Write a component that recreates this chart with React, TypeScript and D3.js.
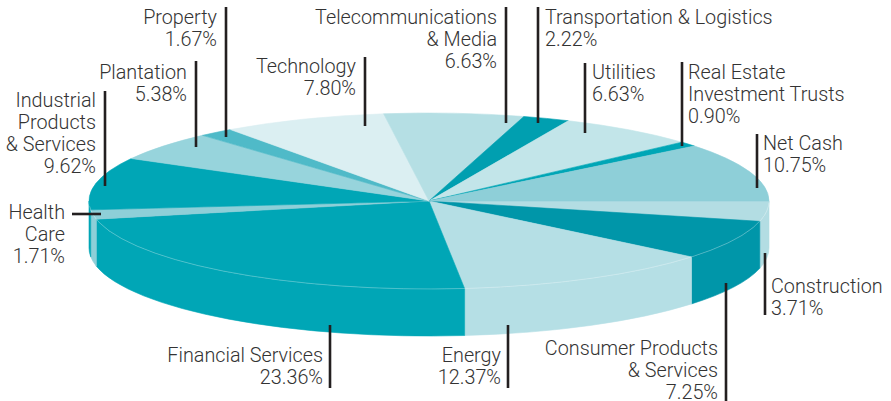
import React, { useEffect, useRef } from "react";
import * as d3 from "d3";

// sector weights, clockwise from 3 o'clock
const categories = [
  "Construction",
  "Consumer Products & Services",
  "Energy",
  "Financial Services",
  "Health Care",
  "Industrial Products & Services",
  "Plantation",
  "Property",
  "Technology",
  "Telecommunications & Media",
  "Transportation & Logistics",
  "Utilities",
  "Real Estate Investment Trusts",
  "Net Cash",
];
const values = [3.71, 7.25, 12.37, 23.36, 1.71, 9.62, 5.38, 1.67, 7.8, 6.63, 2.22, 6.63, 0.9, 10.75];
const labelLines = [
  ["Construction"],
  ["Consumer Products", "& Services"],
  ["Energy"],
  ["Financial Services"],
  ["Health", "Care"],
  ["Industrial", "Products", "& Services"],
  ["Plantation"],
  ["Property"],
  ["Technology"],
  ["Telecommunications", "& Media"],
  ["Transportation & Logistics"],
  ["Utilities"],
  ["Real Estate", "Investment Trusts"],
  ["Net Cash"],
];
const colors = [
  "#b3dde3", "#0096a9", "#b5dfe5", "#00a6b6", "#8ecfd8", "#00a6b6", "#97d4dc",
  "#4fbac8", "#dbeff2", "#b5dfe4", "#009fb0", "#c2e5e9", "#00a6b6", "#8ecfd8",
];

// annotation layout: leader line and text start
const layout = [
  { lx: 765, y1: 253, y2: 315, anchor: "start", tx: 771, ty: 293 },
  { lx: 726, y1: 283, y2: 401, anchor: "end", tx: 718, ty: 355 },
  { lx: 508, y1: 325, y2: 388, anchor: "end", tx: 501, ty: 362 },
  { lx: 330, y1: 325, y2: 388, anchor: "end", tx: 323, ty: 362 },
  { lx: 72, lx2: 101, y1: 214, y2: 214, anchor: "end", tx: 65, ty: 219 },
  { lx: 105, y1: 91, y2: 186, anchor: "end", tx: 96, ty: 107 },
  { lx: 196, y1: 61, y2: 147, anchor: "end", tx: 187, ty: 79 },
  { lx: 226, y1: 7, y2: 137, anchor: "end", tx: 217, ty: 24 },
  { lx: 365, y1: 57, y2: 126, anchor: "end", tx: 356, ty: 73 },
  { lx: 506, y1: 7, y2: 123, anchor: "end", tx: 497, ty: 24 },
  { lx: 538, y1: 7, y2: 123, anchor: "start", tx: 545, ty: 24 },
  { lx: 585, y1: 63, y2: 133, anchor: "start", tx: 592, ty: 79 },
  { lx: 682, y1: 62, y2: 146, anchor: "start", tx: 688, ty: 79 },
  { lx: 757, y1: 134, y2: 188, anchor: "start", tx: 763, ty: 150 },
];

const W = 891;
const H = 401;
const cx = 429;
const cy = 201;
const rx = 340;
const ry = 88;
const depth = 47;
const lineH = 22;

const pt = (a: number, dy = 0) => [cx + rx * Math.sin(a), cy - ry * Math.cos(a) + dy];

function arcTo(a0: number, a1: number, dy: number, sweep: number) {
  const [x, y] = pt(a1, dy);
  const large = Math.abs(a1 - a0) > Math.PI ? 1 : 0;
  return `A${rx},${ry} 0 ${large} ${sweep} ${x},${y}`;
}

export default function App() {
  const ref = useRef<SVGSVGElement>(null);

  useEffect(() => {
    const svg = d3.select(ref.current);
    svg.selectAll("*").remove();

    const pie = d3
      .pie<number>()
      .sort(null)
      .startAngle(Math.PI / 2)
      .endAngle(Math.PI / 2 + 2 * Math.PI)
      .value((d) => d);
    const arcs = pie(values);

    // side walls (only the front half shows)
    const sides = svg.append("g");
    arcs.forEach((d, i) => {
      const a0 = Math.max(d.startAngle, Math.PI / 2);
      const a1 = Math.min(d.endAngle, (3 * Math.PI) / 2);
      if (a1 <= a0) return;
      const [x0, y0] = pt(a0);
      const [x1, y1] = pt(a1, depth);
      const p = `M${x0},${y0}${arcTo(a0, a1, 0, 1)}L${x1},${y1}${arcTo(a1, a0, depth, 0)}Z`;
      sides.append("path").attr("d", p).attr("fill", colors[i]).attr("stroke", colors[i]).attr("stroke-width", 0.6);
    });

    // top faces
    const tops = svg.append("g");
    arcs.forEach((d, i) => {
      const [x0, y0] = pt(d.startAngle);
      const p = `M${cx},${cy}L${x0},${y0}${arcTo(d.startAngle, d.endAngle, 0, 1)}Z`;
      tops.append("path").attr("d", p).attr("fill", colors[i]).attr("stroke", colors[i]).attr("stroke-width", 0.6).attr("stroke-linejoin", "round");
    });

    // faint rim between top and wall
    const [rx0, ry0] = pt(Math.PI / 2 + 0.02);
    svg
      .append("path")
      .attr("d", `M${rx0},${ry0}${arcTo(Math.PI / 2 + 0.02, (3 * Math.PI) / 2 - 0.06, 0, 1)}`)
      .attr("fill", "none")
      .attr("stroke", "#ffffff")
      .attr("stroke-opacity", 0.35)
      .attr("stroke-width", 0.8);

    // leaders and labels
    const ann = svg.append("g");
    layout.forEach((l, i) => {
      ann
        .append("line")
        .attr("x1", l.lx)
        .attr("x2", l.lx2 ?? l.lx)
        .attr("y1", l.y1)
        .attr("y2", l.y2)
        .attr("stroke", "#231f20")
        .attr("stroke-width", 2.6);
      const lines = [...labelLines[i], d3.format(".2f")(values[i]) + "%"];
      const t = ann
        .append("text")
        .attr("x", l.tx)
        .attr("y", l.ty)
        .attr("text-anchor", l.anchor)
        .attr("font-family", "Roboto, sans-serif")
        .attr("font-weight", 300)
        .attr("font-size", 19.8)
        .attr("fill", "#333333");
      lines.forEach((s, k) => {
        t.append("tspan").attr("x", l.tx).attr("y", l.ty + k * lineH).text(s);
      });
    });
  }, []);

  return (
    <svg
      ref={ref}
      width={W}
      height={H}
      viewBox={`0 0 ${W} ${H}`}
      style={{ position: "absolute", left: 0, top: 0, background: "#fff" }}
    />
  );
}
